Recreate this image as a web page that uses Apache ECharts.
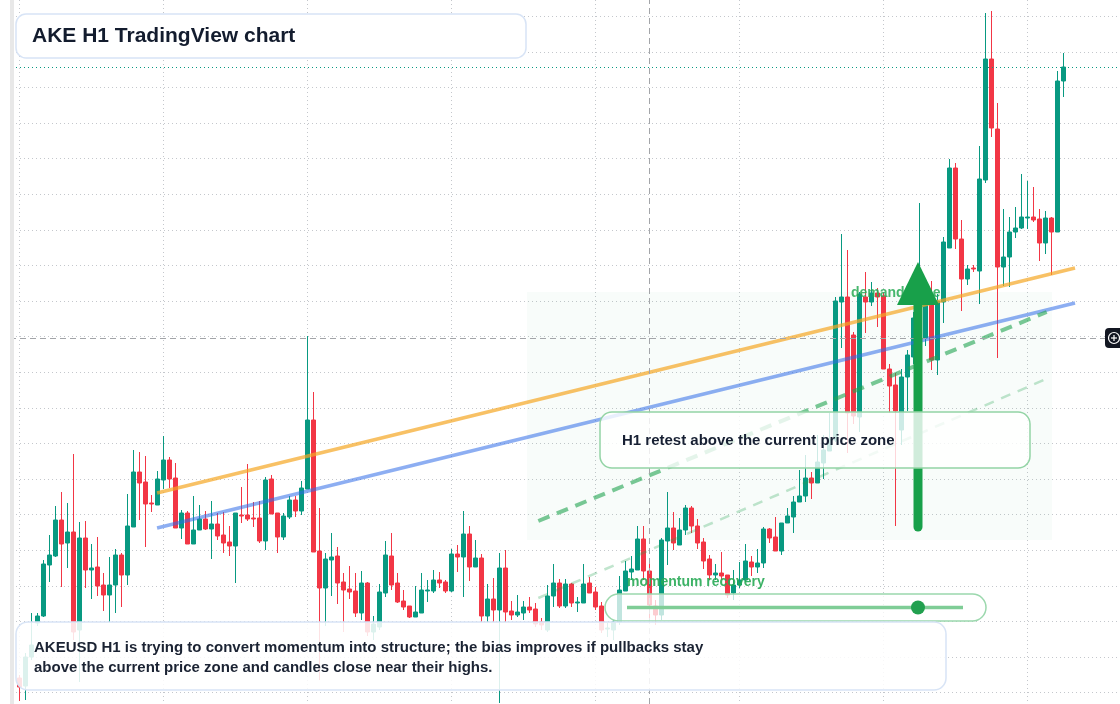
<!DOCTYPE html>
<html>
<head>
<meta charset="utf-8">
<title>AKE H1 TradingView chart</title>
<script src="https://cdn.jsdelivr.net/npm/echarts@6/dist/echarts.min.js"></script>
<style>
  html, body { margin: 0; padding: 0; background: #ffffff; }
  #chart { width: 1120px; height: 704px; }
</style>
</head>
<body>
<div id="chart"></div>
<script>
// hourly candles, one row per bar: [open, close, low, high]
var candles = [
  [0.26,0.17,0.03,0.29],[0.18,0.47,0.04,0.51],[0.47,0.59,0.44,0.91],[0.81,0.88,0.78,0.91],
  [0.88,1.40,0.87,1.44],[1.39,1.49,1.22,1.69],[1.48,1.84,1.47,1.98],[1.84,1.60,1.17,2.12],
  [1.61,1.72,1.36,2.01],[1.72,0.72,0.64,2.50],[0.74,1.66,0.22,1.82],[1.66,1.34,1.16,1.83],
  [1.34,1.36,1.05,1.60],[1.37,1.18,1.08,1.67],[1.19,1.09,0.93,1.31],[1.09,1.19,0.82,1.47],
  [1.19,1.49,0.91,1.55],[1.49,1.29,0.97,1.51],[1.29,1.78,1.19,2.10],[1.77,2.32,1.77,2.54],
  [2.32,2.21,1.84,2.52],[2.22,2.00,1.57,2.48],[2.01,2.00,1.92,2.09],[1.99,2.25,1.99,2.33],
  [2.24,2.44,2.15,2.68],[2.44,2.25,2.16,2.47],[2.26,1.76,1.76,2.41],[1.76,1.91,1.65,1.94],
  [1.91,1.60,1.60,1.93],[1.60,1.74,1.60,2.08],[1.74,1.85,1.74,1.99],[1.85,1.75,1.74,1.93],
  [1.75,1.80,1.45,2.03],[1.80,1.68,1.64,1.91],[1.69,1.61,1.51,1.92],[1.62,1.58,1.48,1.78],
  [1.58,1.91,1.21,1.91],[1.89,1.88,1.81,2.17],[1.89,1.85,1.83,2.40],[1.86,1.85,1.77,2.02],
  [1.86,1.63,1.61,2.03],[1.63,2.24,1.54,2.27],[2.25,1.90,1.90,2.29],[1.91,1.67,1.51,1.91],
  [1.67,1.88,1.64,1.91],[1.87,2.04,1.85,2.08],[2.04,1.93,1.87,2.08],[1.93,2.16,1.89,2.23],
  [2.15,2.84,2.15,3.68],[2.84,1.52,1.52,3.12],[1.53,1.16,0.24,1.96],[1.16,1.45,0.78,1.51],
  [1.44,1.47,1.08,1.71],[1.48,1.21,1.00,1.57],[1.22,1.14,0.72,1.31],[1.15,1.12,1.05,1.38],
  [1.13,0.91,0.87,1.31],[0.91,1.21,0.84,1.33],[1.21,0.72,0.68,1.22],[0.72,0.80,0.64,0.88],
  [0.77,1.12,0.74,1.20],[1.11,1.49,1.07,1.63],[1.48,1.19,1.14,1.71],[1.21,1.02,1.01,1.31],
  [1.03,0.97,0.94,1.14],[0.98,0.87,0.86,0.98],[0.87,0.92,0.87,1.18],[0.91,1.14,0.91,1.31],
  [1.13,1.14,1.02,1.24],[1.13,1.24,1.11,1.34],[1.24,1.21,1.16,1.32],[1.22,1.13,1.11,1.24],
  [1.13,1.50,1.12,1.55],[1.50,1.47,1.32,1.59],[1.47,1.70,1.07,1.93],[1.70,1.37,1.23,1.78],
  [1.37,1.46,1.37,1.64],[1.46,0.88,0.82,1.50],[0.88,1.05,0.82,1.20],[1.05,0.94,0.82,1.26],
  [0.94,1.36,0.01,1.51],[1.36,0.92,0.82,1.54],[0.93,0.89,0.84,1.03],[0.89,0.92,0.87,1.09],
  [0.91,0.97,0.84,1.03],[0.97,0.94,0.91,1.07],[0.95,0.80,0.77,1.01],[0.82,0.79,0.74,0.86],
  [0.74,1.08,0.72,1.19],[1.08,1.21,0.97,1.40],[1.21,0.98,0.96,1.25],[0.98,1.20,0.96,1.25],
  [1.20,1.01,0.97,1.21],[1.01,1.02,0.92,1.07],[1.01,1.20,1.01,1.40],[1.21,1.11,1.11,1.27],
  [1.12,0.97,0.94,1.17],[0.98,0.74,0.71,1.02],[0.75,0.76,0.67,0.81],[0.74,0.82,0.64,0.84],
  [0.82,1.14,0.79,1.28],[1.13,1.33,1.13,1.43],[1.32,1.35,1.24,1.48],[1.34,1.65,1.34,1.78],
  [1.65,1.33,1.24,1.78],[1.33,0.99,0.84,1.40],[0.98,0.89,0.79,1.04],[0.89,1.64,0.84,1.66],
  [1.63,1.76,1.39,2.12],[1.76,1.61,1.54,1.92],[1.59,1.74,1.59,1.86],[1.74,1.96,1.69,1.99],
  [1.96,1.78,1.71,1.98],[1.78,1.61,1.55,1.85],[1.62,1.43,1.35,1.66],[1.45,1.29,1.24,1.49],
  [1.29,1.31,1.24,1.40],[1.31,1.28,1.24,1.52],[1.29,1.09,1.06,1.29],[1.11,1.19,1.04,1.34],
  [1.19,1.24,1.16,1.42],[1.24,1.43,1.22,1.60],[1.42,1.37,1.28,1.48],[1.37,1.41,1.31,1.55],
  [1.41,1.75,1.36,1.77],[1.75,1.66,1.61,1.76],[1.67,1.53,1.53,1.87],[1.53,1.81,1.49,1.81],
  [1.81,1.88,1.81,1.96],[1.87,2.02,1.71,2.08],[2.02,2.08,2.02,2.34],[2.08,2.26,2.02,2.49],
  [2.26,2.21,2.05,2.32],[2.21,2.42,2.21,2.69],[2.41,2.54,2.25,2.69],[2.53,2.65,2.53,2.91],
  [2.64,4.03,2.62,4.07],[4.02,4.07,3.56,4.70],[4.07,2.91,2.51,4.54],[3.69,2.88,2.80,3.72],
  [2.87,4.10,2.72,4.12],[4.07,4.02,3.71,4.32],[4.02,4.11,3.98,4.22],[4.11,4.07,3.77,4.16],
  [4.08,3.35,3.35,4.11],[3.35,3.18,2.91,3.40],[3.19,2.93,1.78,3.31],[2.74,3.27,2.59,3.35],
  [3.27,3.49,2.93,3.54],[3.47,3.86,3.40,3.92],[3.62,3.98,3.55,5.01],[3.66,4.00,3.58,4.08],
  [3.99,3.44,3.34,4.23],[3.44,4.03,3.29,4.10],[4.02,4.62,3.81,4.67],[4.56,5.36,4.56,5.45],
  [5.36,4.65,4.55,5.41],[4.65,4.25,3.93,4.84],[4.25,4.35,4.19,4.39],[4.36,4.35,4.32,4.39],
  [4.33,5.25,4.00,5.58],[5.24,6.45,5.21,6.91],[6.45,5.76,5.67,6.93],[5.75,4.37,3.46,6.01],
  [4.37,4.47,4.18,4.95],[4.47,4.72,4.17,4.87],[4.72,4.76,4.66,4.97],[4.76,4.87,4.75,5.30],
  [4.86,4.87,4.75,5.23],[4.87,4.84,4.82,5.17],[4.85,4.61,4.43,4.95],[4.61,4.86,4.50,4.93],
  [4.86,4.72,4.29,4.87],[4.72,6.23,4.72,6.33],[6.23,6.37,6.07,6.51]
];

// drawn studies, as [bar, price] end points
var upperTrend = [[22.93, 2.11], [175.92, 4.36]];
var lowerTrend = [[22.93, 1.76], [175.92, 4.01]];
var supportDash = [[86.47, 1.83], [171.2, 3.92]];
var recoveryDash = [[86.47, 1.06], [171.5, 3.26]];
var demandZone = [[84.6, 4.12], [172.1, 1.64]];
var crossBar = 104.92;
var crossPrice = 3.66;

var UP = '#089981';
var DOWN = '#f23645';
var FONT = '"Liberation Sans", Arial, Helvetica, sans-serif';
var GRID_LINE = { show: true, lineStyle: { color: '#c4c7cc', type: [1, 3], width: 1 } };
var HIDDEN = { axisLine: { show: false }, axisTick: { show: false }, axisLabel: { show: false } };

var candleData = candles.map(function (c, i) { return [i, c[0], c[1], c[2], c[3]]; });
var lastClose = candles[candles.length - 1][1];

function axis(extra) {
  return Object.assign({ type: 'value' }, HIDDEN, extra);
}

var chart = echarts.init(document.getElementById('chart'));

var option = {
  animation: false,
  backgroundColor: '#ffffff',
  grid: [
    { left: 0, right: 0, top: 0, bottom: 0 },          // price pane
    { left: 19.5, right: 0, top: 0, bottom: 0 },       // time grid: a line every 24 bars
    { left: 0, right: 0, top: 16.2, bottom: 11.4 }     // price grid steps
  ],
  xAxis: [
    axis({ gridIndex: 0, min: -3.25, max: 183.4167, splitLine: { show: false } }),
    axis({ gridIndex: 1, min: 0, max: 183.4167, interval: 24, splitLine: GRID_LINE }),
    axis({ gridIndex: 2, min: 0, max: 1, splitLine: { show: false } })
  ],
  yAxis: [
    axis({ gridIndex: 0, min: 0, max: 7.04, splitLine: { show: false } }),
    axis({ gridIndex: 1, min: 0, max: 1, splitLine: { show: false } }),
    axis({ gridIndex: 2, min: 0, max: 19, interval: 1, splitLine: GRID_LINE })
  ],
  series: [
    {
      type: 'line',
      data: [],
      z: 1,
      silent: true,
      markArea: {
        silent: true,
        itemStyle: { color: 'rgba(60, 180, 100, 0.035)' },
        data: [[{ coord: demandZone[0] }, { coord: demandZone[1] }]]
      }
    },
    {
      type: 'line',
      data: [],
      z: 2,
      silent: true,
      markLine: {
        silent: true,
        symbol: 'none',
        label: { show: false },
        lineStyle: { color: '#a3a5a9', type: [6, 4], width: 1 },
        data: [{ xAxis: crossBar }, { yAxis: crossPrice }]
      }
    },
    {
      type: 'candlestick',
      data: candleData,
      barWidth: 4,
      z: 3,
      clip: false,
      itemStyle: {
        color: UP,
        color0: DOWN,
        borderColor: UP,
        borderColor0: DOWN,
        borderWidth: 1
      },
      markLine: {
        silent: true,
        symbol: 'none',
        label: { show: false },
        lineStyle: { color: UP, type: [1, 3], width: 1, opacity: 1 },
        data: [{ yAxis: lastClose }]
      }
    },
    {
      type: 'line', data: upperTrend, symbol: 'none', z: 4, silent: true, clip: false,
      lineStyle: { color: '#f5a623', width: 3.5, opacity: 0.7 }
    },
    {
      type: 'line', data: lowerTrend, symbol: 'none', z: 4, silent: true, clip: false,
      lineStyle: { color: '#2f6be8', width: 3.5, opacity: 0.55 }
    },
    {
      type: 'line', data: supportDash, symbol: 'none', z: 4, silent: true, clip: false,
      lineStyle: { color: '#22a350', width: 4, opacity: 0.6, type: [12, 8] }
    },
    {
      type: 'line', data: recoveryDash, symbol: 'none', z: 4, silent: true, clip: false,
      lineStyle: { color: '#22a350', width: 2.5, opacity: 0.28, type: [10, 8] }
    }
  ],
  graphic: [
    // zone label and arrow
    {
      type: 'text', x: 851, y: 293, z: 5, silent: true,
      style: { text: 'demand zone', font: 'bold 14px ' + FONT, fill: 'rgba(40, 170, 85, 0.85)', verticalAlign: 'middle' }
    },
    {
      type: 'line', z: 6, silent: true,
      shape: { x1: 918, y1: 527, x2: 918, y2: 300 },
      style: { stroke: '#18a04a', lineWidth: 9, lineCap: 'round' }
    },
    {
      type: 'polygon', z: 6, silent: true,
      shape: { points: [[918, 262], [897, 305], [939, 305]] },
      style: { fill: '#18a04a' }
    },
    // callout
    {
      type: 'rect', z: 8, silent: true,
      shape: { x: 600, y: 412, width: 430, height: 56, r: 12 },
      style: { fill: 'rgba(255,255,255,0.8)', stroke: '#93d4a5', lineWidth: 1.5 }
    },
    {
      type: 'text', x: 622, y: 441, z: 9, silent: true,
      style: { text: 'H1 retest above the current price zone', font: 'bold 15px ' + FONT, fill: '#172033', verticalAlign: 'middle' }
    },
    // momentum slider
    {
      type: 'text', x: 627, y: 582, z: 5, silent: true,
      style: { text: 'momentum recovery', font: 'bold 14px ' + FONT, fill: 'rgba(40, 170, 85, 0.9)', verticalAlign: 'middle' }
    },
    {
      type: 'rect', z: 8, silent: true,
      shape: { x: 605, y: 594, width: 381, height: 27, r: 13.5 },
      style: { fill: 'rgba(255,255,255,0.75)', stroke: '#9bd8ad', lineWidth: 1.5 }
    },
    {
      type: 'line', z: 9, silent: true,
      shape: { x1: 627, y1: 607.5, x2: 963, y2: 607.5 },
      style: { stroke: '#7fcd96', lineWidth: 3.5 }
    },
    {
      type: 'circle', z: 9, silent: true,
      shape: { cx: 918, cy: 607.5, r: 7 },
      style: { fill: '#22a04f' }
    },
    // summary box
    {
      type: 'rect', z: 10, silent: true,
      shape: { x: 16, y: 622, width: 930, height: 68, r: 12 },
      style: { fill: 'rgba(255,255,255,0.86)', stroke: '#d8e4f6', lineWidth: 1.5 }
    },
    {
      type: 'text', x: 34, y: 648, z: 11, silent: true,
      style: { text: 'AKEUSD H1 is trying to convert momentum into structure; the bias improves if pullbacks stay', font: 'bold 15px ' + FONT, fill: '#1b2333', verticalAlign: 'middle' }
    },
    {
      type: 'text', x: 34, y: 668, z: 11, silent: true,
      style: { text: 'above the current price zone and candles close near their highs.', font: 'bold 15px ' + FONT, fill: '#1b2333', verticalAlign: 'middle' }
    },
    // title
    {
      type: 'rect', z: 10, silent: true,
      shape: { x: 16, y: 14, width: 510, height: 44, r: 10 },
      style: { fill: '#ffffff', stroke: '#d8e4f6', lineWidth: 1.5 }
    },
    {
      type: 'text', x: 32, y: 36, z: 11, silent: true,
      style: { text: 'AKE H1 TradingView chart', font: 'bold 21px ' + FONT, fill: '#131c2e', verticalAlign: 'middle' }
    },
    // left edge
    { type: 'rect', z: 12, silent: true, shape: { x: 0, y: 0, width: 10, height: 704 }, style: { fill: '#ffffff' } },
    { type: 'rect', z: 12, silent: true, shape: { x: 10, y: 0, width: 4, height: 704 }, style: { fill: '#e8e8e8' } },
    // crosshair button at the price scale edge
    {
      type: 'rect', z: 12, silent: true,
      shape: { x: 1105, y: 328, width: 24, height: 20, r: 4 },
      style: { fill: '#131722' }
    },
    {
      type: 'circle', z: 13, silent: true,
      shape: { cx: 1114, cy: 338, r: 5.5 },
      style: { fill: 'none', stroke: '#ffffff', lineWidth: 1.2 }
    },
    { type: 'line', z: 13, silent: true, shape: { x1: 1111, y1: 338, x2: 1117, y2: 338 }, style: { stroke: '#ffffff', lineWidth: 1.2 } },
    { type: 'line', z: 13, silent: true, shape: { x1: 1114, y1: 335, x2: 1114, y2: 341 }, style: { stroke: '#ffffff', lineWidth: 1.2 } }
  ]
};

chart.setOption(option);
window.onresize = chart.resize;
</script>
</body>
</html>
